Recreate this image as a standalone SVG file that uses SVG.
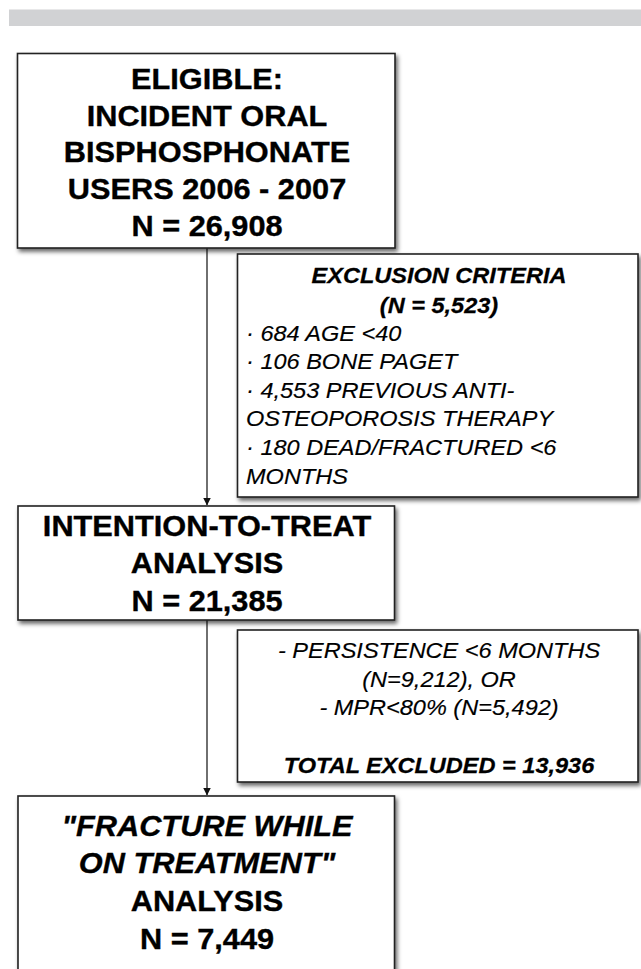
<svg xmlns="http://www.w3.org/2000/svg" width="641" height="969" viewBox="0 0 641 969">
<defs>
<style>
.box{fill:#fff;stroke:#222;stroke-width:1.6;filter:url(#sh)}
.t{font-family:"Liberation Sans",Arial,Helvetica,sans-serif;fill:#000}
.big{font-size:29px;font-weight:bold;text-anchor:middle;stroke:#000;stroke-width:0.35}
.bi{font-style:italic}
.sm{font-size:22px;font-style:italic;stroke:#000;stroke-width:0.15}
.smb{font-size:22px;font-style:italic;font-weight:bold;stroke:#000;stroke-width:0.25}
.c{text-anchor:middle}
.conn{stroke:#222;stroke-width:1.3;fill:none;marker-end:url(#ah)}
</style>
<filter id="sh" x="-5%" y="-5%" width="115%" height="120%">
<feDropShadow dx="2" dy="3" stdDeviation="2" flood-color="#000" flood-opacity="0.6"/>
</filter>
<marker id="ah" markerWidth="8" markerHeight="9" refX="7.5" refY="4" orient="auto" markerUnits="userSpaceOnUse">
<path d="M0,0 L8,4 L0,8 Z" fill="#111"/>
</marker>
</defs>
<rect width="641" height="969" fill="#fff"/>
<rect x="9" y="9.5" width="632" height="16.5" fill="#d1d2d4"/>

<g id="connectors">
<line class="conn" x1="207" y1="248" x2="207" y2="505"/>
<line class="conn" x1="207" y1="620" x2="207" y2="795"/>
</g>

<g id="eligible">
<rect class="box" x="17.5" y="53.5" width="377.5" height="194.5"/>
<g class="t big" transform="matrix(1.06 0 0 1 -12.4 0)">
<text x="207" y="89">ELIGIBLE:</text>
<text x="207" y="126">INCIDENT ORAL</text>
<text x="207" y="162.5">BISPHOSPHONATE</text>
<text x="207" y="199.5">USERS 2006 - 2007</text>
<text x="207" y="236.5">N = 26,908</text>
</g>
</g>

<g id="exclusion1">
<rect class="box" x="237.5" y="254" width="400.5" height="243"/>
<g class="t" transform="matrix(1.07 0 0 1 -30.7 0)">
<text class="smb c" x="439" y="283">EXCLUSION CRITERIA</text>
<text class="smb c" x="439" y="313">(N = 5,523)</text>
</g>
<g class="t sm" transform="matrix(1.07 0 0 1 -17.2 0)">
<text x="246" y="341">· 684 AGE &lt;40</text>
<text x="246" y="369.5">· 106 BONE PAGET</text>
<text x="246" y="398">· 4,553 PREVIOUS ANTI-</text>
<text x="246" y="426.5">OSTEOPOROSIS THERAPY</text>
<text x="246" y="455">· 180 DEAD/FRACTURED &lt;6</text>
<text x="246" y="484">MONTHS</text>
</g>
</g>

<g id="itt">
<rect class="box" x="18" y="506" width="376.5" height="114"/>
<g class="t big" transform="matrix(1.06 0 0 1 -12.4 0)">
<text x="207" y="536">INTENTION-TO-TREAT</text>
<text x="207" y="573.5">ANALYSIS</text>
<text x="207" y="611">N = 21,385</text>
</g>
</g>

<g id="exclusion2">
<rect class="box" x="237.5" y="630" width="400.5" height="152"/>
<g class="t" transform="matrix(1.07 0 0 1 -30.7 0)">
<text class="sm c" x="439" y="658.5">- PERSISTENCE &lt;6 MONTHS</text>
<text class="sm c" x="439" y="687">(N=9,212), OR</text>
<text class="sm c" x="439" y="715.5">- MPR&lt;80% (N=5,492)</text>
<text class="smb c" x="439" y="773">TOTAL EXCLUDED = 13,936</text>
</g>
</g>

<g id="fwot">
<rect class="box" x="18" y="796" width="376.5" height="200"/>
<g class="t big" transform="matrix(1.06 0 0 1 -12.4 0)">
<text class="bi" x="207" y="836">"FRACTURE WHILE</text>
<text class="bi" x="207" y="873.5">ON TREATMENT"</text>
<text x="207" y="911.5">ANALYSIS</text>
<text x="207" y="949">N = 7,449</text>
</g>
</g>
</svg>
